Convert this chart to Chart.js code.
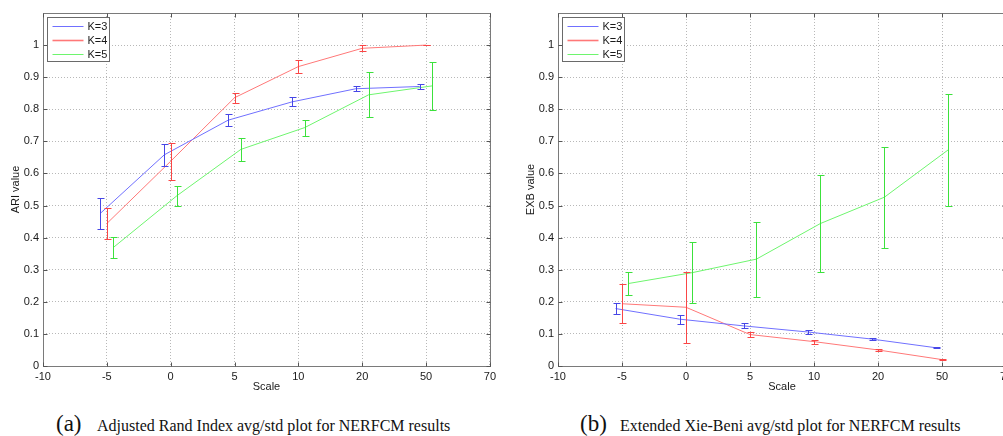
<!DOCTYPE html>
<html>
<head>
<meta charset="utf-8">
<script src="https://cdn.jsdelivr.net/npm/chart.js@4.4.1/dist/chart.umd.min.js"></script>
<style>
  html, body { margin:0; padding:0; background:#fff; width:1003px; height:436px; overflow:hidden; }
  #left { position:absolute; left:0; top:0; width:500px; height:400px; }
  #rightWrap { position:absolute; left:500px; top:0; width:503px; height:400px; overflow:hidden; }
  #right { position:absolute; left:0; top:0; width:520px; height:400px; }
  .cap { position:absolute; font-family:"Liberation Serif","Times New Roman",serif; color:#111; white-space:nowrap; line-height:1; }
  .big { font-size:23px; }
  .small { font-size:16px; }
</style>
</head>
<body>
<canvas id="left" width="500" height="400"></canvas>
<div id="rightWrap"><canvas id="right" width="520" height="400"></canvas></div>
<div class="cap big" style="left:56px; top:412px;">(a)</div>
<div class="cap small" style="left:97px; top:418px;">Adjusted Rand Index avg/std plot for NERFCM results</div>
<div class="cap big" style="left:580px; top:412px;">(b)</div>
<div class="cap small" style="left:620px; top:418px;">Extended Xie-Beni avg/std plot for NERFCM results</div>
<script>
// ---- data ----
const xTickLabels = ['-10', '-5', '0', '5', '10', '20', '50', '70'];
const scaleLevels = ['-5', '0', '5', '10', '20', '50'];
const seriesNames = ['K=3', 'K=4', 'K=5'];

const ariK3 = [0.476, 0.658, 0.766, 0.823, 0.864, 0.871];
const ariK3Std = [0.049, 0.035, 0.018, 0.014, 0.008, 0.007];
const ariK4 = [0.444, 0.638, 0.836, 0.933, 0.990, 1.000];
const ariK4Std = [0.047, 0.058, 0.016, 0.021, 0.009, 0.001];
const ariK5 = [0.369, 0.531, 0.675, 0.743, 0.845, 0.873];
const ariK5Std = [0.034, 0.031, 0.035, 0.025, 0.070, 0.075];

const exbK3 = [0.179, 0.146, 0.125, 0.106, 0.084, 0.057];
const exbK3Std = [0.017, 0.014, 0.008, 0.007, 0.003, 0.002];
const exbK4 = [0.194, 0.183, 0.098, 0.076, 0.050, 0.020];
const exbK4Std = [0.060, 0.111, 0.008, 0.006, 0.002, 0.001];
const exbK5 = [0.257, 0.291, 0.333, 0.444, 0.526, 0.674];
const exbK5Std = [0.035, 0.095, 0.117, 0.152, 0.157, 0.174];

// ---- styles ----
const FONT = { family: '"Liberation Sans", Arial, Helvetica, sans-serif', size: 11 };
const TEXT = '#1a1a1a';
const styles = [
  { line: 'rgb(112,112,255)', err: 'rgb(70,70,230)', offset: -0.1 },
  { line: 'rgb(255,120,120)', err: 'rgb(250,70,70)', offset: 0 },
  { line: 'rgb(110,245,110)', err: 'rgb(60,225,60)', offset: 0.1 }
];

function makeDatasets(means, stds) {
  return means.map((vals, i) => ({
    label: seriesNames[i],
    data: vals.map((v, j) => ({ x: xTickLabels.indexOf(scaleLevels[j]) + styles[i].offset, y: v })),
    errors: stds[i],
    borderColor: styles[i].line,
    errorColor: styles[i].err,
    backgroundColor: styles[i].line,
    borderWidth: 1,
    pointRadius: 0,
    tension: 0,
    fill: false
  }));
}

const matlabPlugin = {
  id: 'matlabLook',
  afterDatasetsDraw(chart) {
    const { ctx, chartArea: a, scales: { x, y } } = chart;
    // error bars
    chart.data.datasets.forEach((ds) => {
      ctx.save();
      ctx.strokeStyle = ds.errorColor;
      ctx.lineWidth = 1;
      ds.data.forEach((pt, j) => {
        const s = ds.errors[j];
        const px = Math.round(x.getPixelForValue(pt.x)) + 0.5;
        const yt = Math.round(y.getPixelForValue(pt.y + s)) + 0.5;
        const yb = Math.round(y.getPixelForValue(pt.y - s)) + 0.5;
        ctx.beginPath();
        ctx.moveTo(px, yt); ctx.lineTo(px, yb);
        ctx.moveTo(px - 3, yt); ctx.lineTo(px + 4, yt);
        ctx.moveTo(px - 3, yb); ctx.lineTo(px + 4, yb);
        ctx.stroke();
      });
      ctx.restore();
    });
    // frame + inward ticks
    ctx.save();
    ctx.strokeStyle = '#7a7a7a';
    ctx.lineWidth = 1;
    const L = Math.round(a.left) + 0.5, R = Math.round(a.right) + 0.5;
    const T = Math.round(a.top) + 0.5, B = Math.round(a.bottom) + 0.5;
    ctx.strokeRect(L, T, R - L, B - T);
    ctx.strokeStyle = '#555';
    ctx.beginPath();
    x.ticks.forEach(t => {
      const px = Math.round(x.getPixelForValue(t.value)) + 0.5;
      ctx.moveTo(px, B); ctx.lineTo(px, B - 4);
      ctx.moveTo(px, T); ctx.lineTo(px, T + 4);
    });
    y.ticks.forEach(t => {
      if (t.value > 1.0001) return;
      const py = Math.round(y.getPixelForValue(t.value)) + 0.5;
      ctx.moveTo(L, py); ctx.lineTo(L + 4, py);
      ctx.moveTo(R, py); ctx.lineTo(R - 4, py);
    });
    ctx.stroke();
    ctx.restore();
    // legend box (MATLAB style, inside the axes)
    ctx.save();
    const bx = Math.round(a.left) + 4.5, by = Math.round(a.top) + 4.5, bw = 62, bh = 44;
    ctx.fillStyle = '#fff';
    ctx.fillRect(bx, by, bw, bh);
    ctx.strokeStyle = '#6a6a6a';
    ctx.strokeRect(bx, by, bw, bh);
    ctx.font = FONT.size + 'px ' + FONT.family;
    ctx.textBaseline = 'middle';
    ctx.fillStyle = TEXT;
    chart.data.datasets.forEach((ds, i) => {
      const ly = Math.round(by + 8 + i * 14) + 0.5;
      ctx.strokeStyle = ds.borderColor;
      ctx.lineWidth = i === 1 ? 1.6 : 1;
      ctx.beginPath();
      ctx.moveTo(bx + 5, ly); ctx.lineTo(bx + 36, ly);
      ctx.stroke();
      ctx.fillText(ds.label, bx + 40, ly);
    });
    ctx.restore();
  }
};

function makeChart(id, datasets, yTitle, yWidth, yTitlePad, rightPad) {
  return new Chart(document.getElementById(id), {
    type: 'line',
    data: { datasets },
    plugins: [matlabPlugin],
    options: {
      responsive: false,
      animation: false,
      devicePixelRatio: 1,
      layout: { padding: { left: 0, right: rightPad, top: 13, bottom: 0 } },
      plugins: { legend: { display: false }, tooltip: { enabled: false } },
      scales: {
        x: {
          type: 'linear', min: 0, max: 7,
          afterFit(s) { s.height = 34; },
          ticks: {
            stepSize: 1, autoSkip: false, padding: 4, maxRotation: 0,
            font: FONT, color: TEXT,
            callback: (v) => (xTickLabels[Math.round(v)] !== undefined ? xTickLabels[Math.round(v)] : '')
          },
          grid: { color: '#b8b8b8', drawTicks: false, lineWidth: 1 },
          border: { display: false, dash: [1, 2] },
          title: { display: true, text: 'Scale', font: FONT, color: TEXT, padding: { top: 0, bottom: 6 } }
        },
        y: {
          min: 0, max: 1.1,
          afterFit(s) { s.width = yWidth; },
          ticks: {
            stepSize: 0.1, padding: 4, font: FONT, color: TEXT,
            callback: (v) => (v > 1.0001 ? '' : String(Math.round(v * 10) / 10))
          },
          grid: { color: '#b8b8b8', drawTicks: false, lineWidth: 1 },
          border: { display: false, dash: [1, 2] },
          title: { display: true, text: yTitle, font: FONT, color: TEXT, padding: { top: yTitlePad, bottom: 0 } }
        }
      }
    }
  });
}

makeChart('left', makeDatasets([ariK3, ariK4, ariK5], [ariK3Std, ariK4Std, ariK5Std]), 'ARI value', 43, 9, 10);
makeChart('right', makeDatasets([exbK3, exbK4, exbK5], [exbK3Std, exbK4Std, exbK5Std]), 'EXB value', 58, 24, 14);
</script>
</body>
</html>
